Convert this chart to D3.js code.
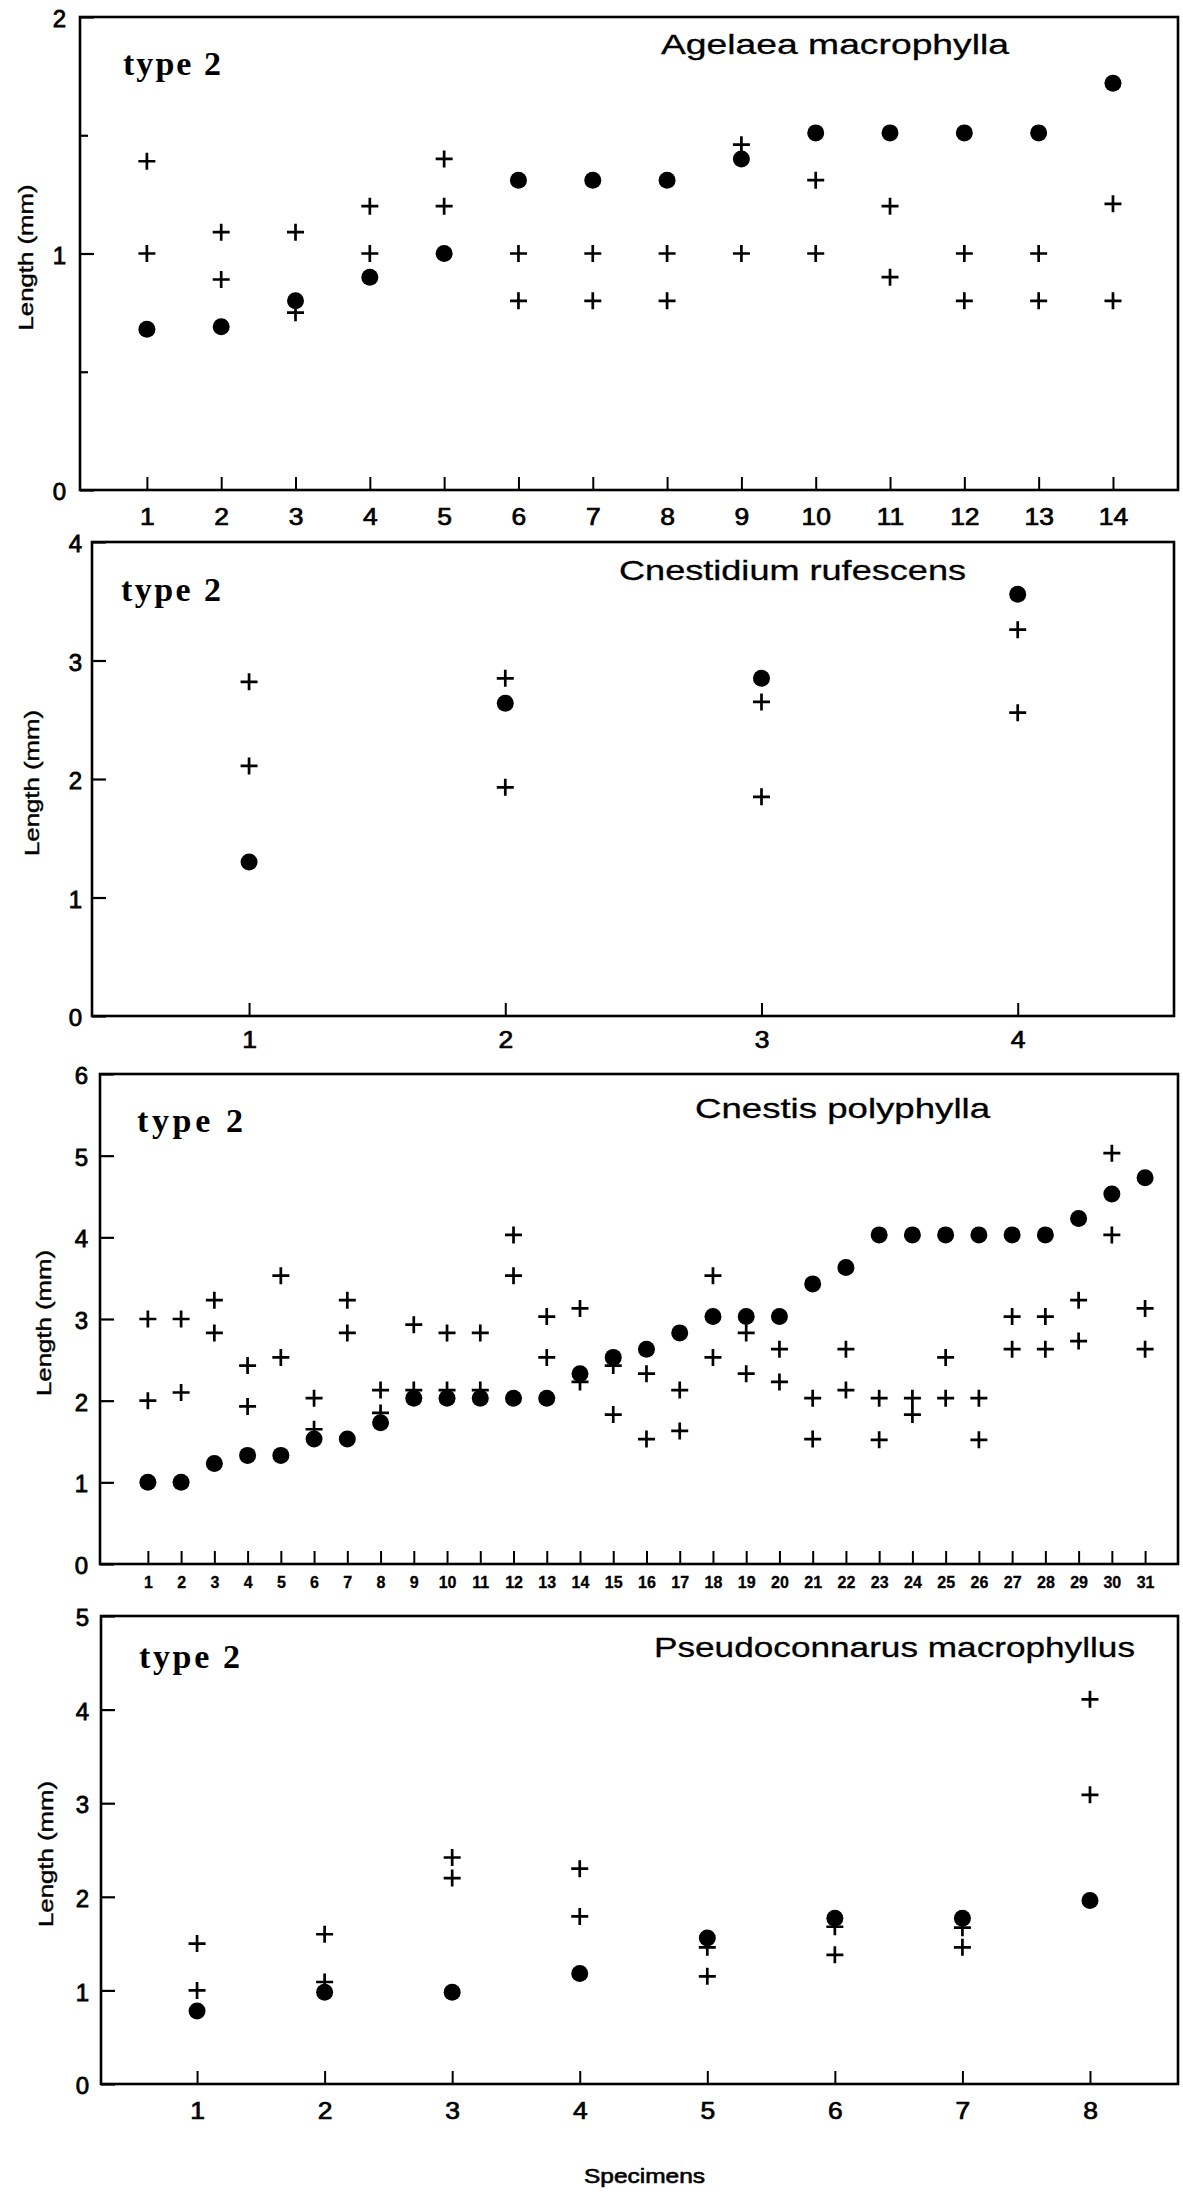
<!DOCTYPE html>
<html>
<head>
<meta charset="utf-8">
<script src="https://cdnjs.cloudflare.com/ajax/libs/d3/7.8.5/d3.min.js"></script>
<style>
  body { margin: 0; background: #fff; }
</style>
</head>
<body>
<div id="chart"></div>
<script>
// ---- data ----
var agelaeaSpecimens = [1, 2, 3, 4, 5, 6, 7, 8, 9, 10, 11, 12, 13, 14];
var agelaeaDots     = [0.68, 0.69, 0.8, 0.9, 1.0, 1.31, 1.31, 1.31, 1.4, 1.51, 1.51, 1.51, 1.51, 1.72];
var agelaeaPlusHigh = [1.39, 1.09, 1.09, 1.2, 1.4, 1.0, 1.0, 1.0, 1.46, 1.31, 1.2, 1.0, 1.0, 1.21];
var agelaeaPlusLow  = [1.0, 0.89, 0.75, 1.0, 1.2, 0.8, 0.8, 0.8, 1.0, 1.0, 0.9, 0.8, 0.8, 0.8];

var cnestidiumSpecimens = [1, 2, 3, 4];
var cnestidiumDots     = [1.3, 2.64, 2.85, 3.56];
var cnestidiumPlusHigh = [2.82, 2.85, 2.65, 3.26];
var cnestidiumPlusLow  = [2.11, 1.93, 1.85, 2.56];

var cnestisSpecimens = [1, 2, 3, 4, 5, 6, 7, 8, 9, 10, 11, 12, 13, 14, 15, 16,
                        17, 18, 19, 20, 21, 22, 23, 24, 25, 26, 27, 28, 29, 30, 31];
var cnestisDots = [1.0, 1.0, 1.23, 1.33, 1.33, 1.53, 1.53, 1.73, 2.03, 2.03, 2.03, 2.03, 2.03, 2.33, 2.53, 2.63,
                   2.83, 3.03, 3.03, 3.03, 3.43, 3.63, 4.03, 4.03, 4.03, 4.03, 4.03, 4.03, 4.23, 4.53, 4.73];
var cnestisPlusHigh = [3.0, 3.0, 3.23, 2.43, 3.53, 2.03, 3.23, 2.13, 2.93, 2.83, 2.83, 4.03, 3.03, 3.13, 2.43, 2.33,
                       2.13, 3.53, 2.83, 2.63, 2.03, 2.63, 2.03, 2.03, 2.53, 2.03, 3.03, 3.03, 3.23, 5.03, 3.13];
var cnestisPlusLow  = [2.0, 2.1, 2.83, 1.93, 2.53, 1.65, 2.83, 1.85, 2.13, 2.13, 2.13, 3.53, 2.53, 2.23, 1.83, 1.53,
                       1.63, 2.53, 2.33, 2.23, 1.53, 2.13, 1.52, 1.83, 2.03, 1.52, 2.63, 2.63, 2.73, 4.03, 2.63];

var pseudoSpecimens = [1, 2, 3, 4, 5, 6, 7, 8];
var pseudoDots     = [0.78, 0.98, 0.98, 1.18, 1.56, 1.77, 1.77, 1.96];
var pseudoPlusHigh = [1.5, 1.6, 2.42, 2.3, 1.46, 1.68, 1.67, 4.11];
var pseudoPlusLow  = [1.0, 1.09, 2.2, 1.79, 1.15, 1.38, 1.46, 3.09];

var titles = ["Agelaea macrophylla", "Cnestidium rufescens", "Cnestis polyphylla", "Pseudoconnarus macrophyllus"];
var agelaeaYTicks = [0, 0.5, 1, 1.5, 2];
var cnestidiumYTicks = [0, 1, 2, 3, 4];
var cnestisYTicks = [0, 1, 2, 3, 4, 5, 6];
var pseudoYTicks = [0, 1, 2, 3, 4, 5];

// ---- layout of the four stacked panels ----
var panels = [
  { specimens: agelaeaSpecimens, dots: agelaeaDots, high: agelaeaPlusHigh, low: agelaeaPlusLow,
    yTicks: agelaeaYTicks, title: titles[0],
    left: 80, right: 1178, top: 17, bottom: 490, xDomain: [0.1, 14.875],
    xFont: 23, xPad: 19, yPad: 14, yLabelX: 26,
    titleX: 661, titleY: 54, titleW: 348, typeX: 123, typeY: 75, typeW: 98 },
  { specimens: cnestidiumSpecimens, dots: cnestidiumDots, high: cnestidiumPlusHigh, low: cnestidiumPlusLow,
    yTicks: cnestidiumYTicks, title: titles[1],
    left: 92, right: 1174, top: 542, bottom: 1016, xDomain: [0.387, 4.61],
    xFont: 23, xPad: 16, yPad: 10, yLabelX: 32,
    titleX: 619, titleY: 580, titleW: 347, typeX: 121, typeY: 601, typeW: 100 },
  { specimens: cnestisSpecimens, dots: cnestisDots, high: cnestisPlusHigh, low: cnestisPlusLow,
    yTicks: cnestisYTicks, title: titles[2],
    left: 100, right: 1178, top: 1074, bottom: 1564, xDomain: [-0.44, 31.99],
    xFont: 16, xPad: 13, yPad: 12, yLabelX: 44, xBold: true,
    titleX: 695, titleY: 1118, titleW: 295, typeX: 137, typeY: 1132, typeW: 106 },
  { specimens: pseudoSpecimens, dots: pseudoDots, high: pseudoPlusHigh, low: pseudoPlusLow,
    yTicks: pseudoYTicks, title: titles[3],
    left: 101, right: 1178, top: 1616, bottom: 2084, xDomain: [0.247, 8.69],
    xFont: 23, xPad: 19, yPad: 12, yLabelX: 46,
    titleX: 654, titleY: 1657, titleW: 481, typeX: 139, typeY: 1668, typeW: 101 }
];

var sans = "'Liberation Sans', Arial, Helvetica, sans-serif";
var serif = "'Liberation Serif', 'Times New Roman', serif";
var crossPath = "M-8.5,0H8.5M0,-8.5V8.5";

var svg = d3.select('#chart')
  .append('svg')
  .attr('width', 1183)
  .attr('height', 2192)
  .style('background', '#fff');

panels.forEach(function(p){
  var x = d3.scaleLinear().domain(p.xDomain).range([p.left, p.right]);
  var yMax = p.yTicks[p.yTicks.length - 1];
  var y = d3.scaleLinear().domain([0, yMax]).range([p.bottom, p.top]);
  var g = svg.append('g');

  // x axis: ticks pointing into the plot
  var xg = g.append('g')
    .attr('transform', 'translate(0,' + p.bottom + ')')
    .call(d3.axisBottom(x).tickValues(p.specimens).tickFormat(d3.format('d'))
      .tickSizeInner(-13).tickSizeOuter(0).tickPadding(p.xPad));
  xg.select('.domain').remove();
  xg.selectAll('line').attr('stroke', '#000').attr('stroke-width', 2);
  xg.selectAll('text')
    .attr('font-family', sans)
    .attr('font-size', p.xFont)
    .attr('font-weight', p.xBold ? 'bold' : 'normal')
    .attr('transform', p.xBold ? null : 'scale(1.15,1)')
    .attr('fill', '#000')
    .attr('stroke', '#000')
    .attr('stroke-width', p.xBold ? 0.3 : 0.7);

  // y axis
  var yg = g.append('g')
    .attr('transform', 'translate(' + p.left + ',0)')
    .call(d3.axisLeft(y).tickValues(p.yTicks)
      .tickFormat(function(d){ return d % 1 === 0 ? d : ''; })
      .tickSizeInner(-14).tickSizeOuter(0).tickPadding(p.yPad));
  yg.select('.domain').remove();
  yg.selectAll('line').attr('stroke', '#000').attr('stroke-width', 2.2)
    .attr('x2', function(d){ return d % 1 === 0 ? 14 : 8; });
  yg.selectAll('text')
    .attr('font-family', sans)
    .attr('font-size', 24)
    .attr('dy', '0.4em')
    .attr('fill', '#000')
    .attr('stroke', '#000')
    .attr('stroke-width', 0.8);

  // frame
  g.append('rect')
    .attr('x', p.left)
    .attr('y', p.top)
    .attr('width', p.right - p.left)
    .attr('height', p.bottom - p.top)
    .attr('fill', 'none')
    .attr('stroke', '#000')
    .attr('stroke-width', 2.6);

  // y axis title
  g.append('text')
    .attr('transform', 'translate(' + p.yLabelX + ',' + ((p.top + p.bottom) / 2 + 4) + ') rotate(-90)')
    .attr('text-anchor', 'middle')
    .attr('dy', '0.35em')
    .attr('font-family', sans)
    .attr('font-size', 20)
    .attr('textLength', 146)
    .attr('lengthAdjust', 'spacingAndGlyphs')
    .attr('fill', '#000')
    .attr('stroke', '#000')
    .attr('stroke-width', 0.4)
    .text('Length (mm)');

  // species name
  g.append('text')
    .attr('x', p.titleX)
    .attr('y', p.titleY)
    .attr('font-family', sans)
    .attr('font-size', 28)
    .attr('textLength', p.titleW)
    .attr('lengthAdjust', 'spacingAndGlyphs')
    .attr('fill', '#000')
    .attr('stroke', '#000')
    .attr('stroke-width', 0.3)
    .text(p.title);

  // "type 2"
  g.append('text')
    .attr('x', p.typeX)
    .attr('y', p.typeY)
    .attr('font-family', serif)
    .attr('font-weight', 'bold')
    .attr('font-size', 34)
    .attr('textLength', p.typeW)
    .attr('lengthAdjust', 'spacing')
    .attr('fill', '#000')
    .text('type 2');

  // markers: two crosses and a dot per specimen
  g.selectAll('path.hi')
    .data(p.specimens)
    .enter()
    .append('path')
    .attr('class', 'hi')
    .attr('d', crossPath)
    .attr('transform', function(d, i){ return 'translate(' + x(d) + ',' + y(p.high[i]) + ')'; })
    .attr('stroke', '#000')
    .attr('stroke-width', 2.7)
    .attr('fill', 'none');

  g.selectAll('path.lo')
    .data(p.specimens)
    .enter()
    .append('path')
    .attr('class', 'lo')
    .attr('d', crossPath)
    .attr('transform', function(d, i){ return 'translate(' + x(d) + ',' + y(p.low[i]) + ')'; })
    .attr('stroke', '#000')
    .attr('stroke-width', 2.7)
    .attr('fill', 'none');

  g.selectAll('circle.dot')
    .data(p.specimens)
    .enter()
    .append('circle')
    .attr('class', 'dot')
    .attr('cx', function(d){ return x(d); })
    .attr('cy', function(d, i){ return y(p.dots[i]); })
    .attr('r', 8.5)
    .attr('fill', '#000');
});

// shared x axis title
svg.append('text')
  .attr('x', 584)
  .attr('y', 2183)
  .attr('font-family', sans)
  .attr('font-size', 20)
  .attr('textLength', 121)
  .attr('lengthAdjust', 'spacingAndGlyphs')
  .attr('fill', '#000')
  .attr('stroke', '#000')
  .attr('stroke-width', 0.6)
  .text('Specimens');
</script>
</body>
</html>
